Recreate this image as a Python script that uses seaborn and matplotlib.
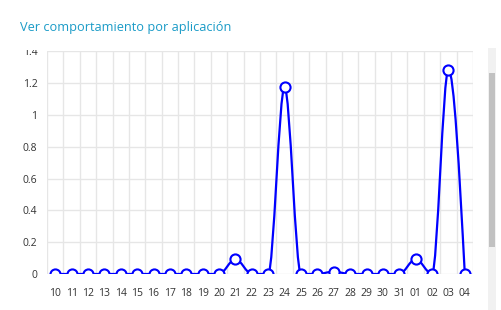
import numpy as np
import pandas as pd
import matplotlib
matplotlib.use("Agg")
import matplotlib.pyplot as plt
from matplotlib.path import Path
from matplotlib.patches import PathPatch, Rectangle, Polygon
import seaborn as sns

# ---- data ----
dias = ["10", "11", "12", "13", "14", "15", "16", "17", "18", "19", "20", "21", "22",
        "23", "24", "25", "26", "27", "28", "29", "30", "31", "01", "02", "03", "04"]
valores = [0, 0, 0, 0, 0, 0, 0, 0, 0, 0, 0, 0.094, 0,
           0, 1.175, 0, 0, 0.015, 0, 0, 0, 0, 0.094, 0, 1.285, 0]
y_ticks = [0, 0.2, 0.4, 0.6, 0.8, 1, 1.2, 1.4]
y_tick_labels = ["0", "0.2", "0.4", "0.6", "0.8", "1", "1.2", "1.4"]
titulo = "Ver comportamiento por aplicación"

sns.set_theme(style="white")
plt.rcParams["font.family"] = ["Open Sans", "DejaVu Sans"]

df = pd.DataFrame({"x": np.arange(len(dias)), "valor": valores, "dia": dias})

fig = plt.figure(figsize=(5.01, 3.10), dpi=100)
ax = fig.add_axes([47 / 501, (310 - 274) / 310, 426 / 501, (274 - 51.3) / 310])

# smooth monotone line (d3 curveMonotoneX style) as cubic Bezier path
xs = df["x"].to_numpy(dtype=float)
ys = df["valor"].to_numpy(dtype=float)
n = len(xs)
sec = np.diff(ys) / np.diff(xs)
tang = np.zeros(n)
for i in range(1, n - 1):
    s0, s1 = sec[i - 1], sec[i]
    p = (s0 + s1) / 2
    tang[i] = (np.sign(s0) + np.sign(s1)) * min(abs(s0), abs(s1), 0.5 * abs(p))
tang[0] = (3 * sec[0] - tang[1]) / 2
tang[-1] = (3 * sec[-1] - tang[-2]) / 2
verts = [(xs[0], ys[0])]
codes = [Path.MOVETO]
for i in range(n - 1):
    dx = (xs[i + 1] - xs[i]) / 3
    verts += [(xs[i] + dx, ys[i] + dx * tang[i]),
              (xs[i + 1] - dx, ys[i + 1] - dx * tang[i + 1]),
              (xs[i + 1], ys[i + 1])]
    codes += [Path.CURVE4] * 3
ax.add_patch(PathPatch(Path(verts, codes), facecolor="none", edgecolor="#0000ff",
                       lw=1.6, zorder=3, capstyle="round", joinstyle="round"))

sns.lineplot(data=df, x="x", y="valor", ax=ax, linestyle="", marker="o",
             markersize=7.3, markerfacecolor="white", markeredgecolor="#0000ff",
             markeredgewidth=1.5, color="#0000ff", zorder=4, legend=False)

# true path clip (polygon, not rectangle) so markers on the baseline are cut in half
clip_poly = Polygon([(0, 0), (1, 0), (1, 1.2), (0, 1.2)], closed=True,
                    transform=ax.transAxes, facecolor="none", edgecolor="none")
for ln in ax.lines:
    ln.set_clip_path(clip_poly)

ax.set_xlim(-0.5, len(dias) - 0.5)
ax.set_ylim(0, 1.4)
ax.set_yticks(y_ticks)
ax.set_yticklabels(y_tick_labels)
ax.set_xticks(np.arange(len(dias)))
ax.set_xticklabels(dias)
ax.set_xticks(np.arange(len(dias) + 1) - 0.5, minor=True)
ax.grid(False)
ax.grid(True, which="minor", axis="x", color="#e6e6e6", lw=1)
ax.grid(True, which="major", axis="y", color="#e6e6e6", lw=1)
ax.set_axisbelow(True)
for s in ax.spines.values():
    s.set_visible(False)
ax.tick_params(axis="x", which="major", length=0, pad=10, labelsize=7.5, labelcolor="#333333")
ax.tick_params(axis="x", which="minor", length=4, color="#e6e6e6", width=1)
ax.tick_params(axis="y", length=0, pad=7, labelsize=7.5, labelcolor="#333333")
ax.set_xlabel("")
ax.set_ylabel("")

fig.text(20 / 501, 1 - 27.5 / 310, titulo, color="#1a9bc7", fontsize=9.2,
         va="center", ha="left")

# cover top of the clipped "1.4" label like the reference container
fig.patches.append(Rectangle((20 / 501, 1 - 49.5 / 310), 27 / 501, 10 / 310,
                             transform=fig.transFigure, facecolor="white",
                             edgecolor="none", zorder=10))
# scrollbar on the right
fig.patches.append(Rectangle((488 / 501, 0), 8 / 501, 1 - 48 / 310,
                             transform=fig.transFigure, facecolor="#f1f1f1",
                             edgecolor="none", zorder=5))
fig.patches.append(Rectangle((489 / 501, 1 - 247 / 310), 6 / 501, (247 - 73) / 310,
                             transform=fig.transFigure, facecolor="#c1c1c1",
                             edgecolor="none", zorder=6))

fig.savefig("out.png", dpi=100, facecolor="white")
